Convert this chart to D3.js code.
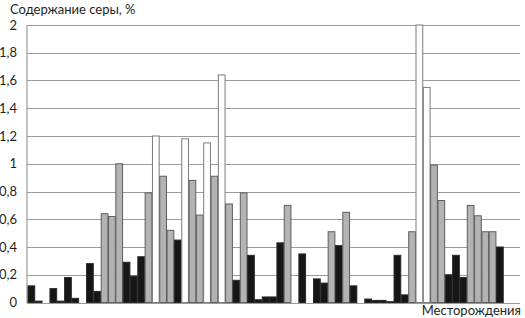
<!DOCTYPE html>
<html lang="ru">
<head>
<meta charset="utf-8">
<title>Содержание серы</title>
<script src="https://d3js.org/d3.v7.min.js"></script>
<style>
  body { margin: 0; background: #fff; }
  text { font-family: Lato, "Open Sans", sans-serif; fill: #1e1e1e; }
</style>
</head>
<body>
<script type="text/javascript">

// sulfur content per deposit, % (null = no bar)
var sulfur = [0.12, 0.01, null, 0.10, 0.01, 0.18, 0.03, null, 0.28, 0.08,
              0.64, 0.62, 1.0, 0.29, 0.19, 0.33, 0.79, 1.2, 0.91, 0.52,
              0.45, 1.18, 0.88, 0.63, 1.15, 0.91, 1.64, 0.71, 0.16, 0.79,
              0.34, 0.02, 0.04, 0.04, 0.43, 0.70, null, 0.35, null, 0.17,
              0.14, 0.51, 0.41, 0.65, 0.12, null, 0.025, 0.015, 0.015, 0.006,
              0.34, 0.055, 0.51, 2.0, 1.55, 0.99, 0.735, 0.20, 0.34, 0.18,
              0.70, 0.625, 0.51, 0.51, 0.40, null, null];

// group of each deposit: b = black, g = grey, w = white
var group = ["b","b","","b","b","b","b","","b","b",
             "g","g","g","b","b","b","g","w","g","g",
             "b","w","g","g","w","g","w","g","b","g",
             "b","b","b","b","b","g","","b","","b",
             "b","g","b","g","b","","b","b","b","b",
             "b","b","g","w","w","g","g","b","b","b",
             "g","g","g","g","b","",""];

var deposits = d3.range(1, sulfur.length + 1);
var yTicks = [0, 0.2, 0.4, 0.6, 0.8, 1, 1.2, 1.4, 1.6, 1.8, 2];

var w = 525;
var h = 318;

var fills   = { b: "#161616", g: "#b3b3b3", w: "#ffffff" };
var strokes = { b: "#2a2a2a", g: "#5e5e5e", w: "#7a7a7a" };

var svg = d3.select("body")
            .append("svg")
            .attr("width", w)
            .attr("height", h);

var x = d3.scaleBand()
          .domain(deposits)
          .range([27.5, 518])
          .padding(0);

var y = d3.scaleLinear()
          .domain([0, 2])
          .range([302.5, 25]);

// gridlines
svg.append("g")
   .selectAll("line")
   .data(yTicks)
   .enter()
   .append("line")
   .attr("x1", 27)
   .attr("x2", 520)
   .attr("y1", function(d) { return Math.round(y(d)) + 0.5; })
   .attr("y2", function(d) { return Math.round(y(d)) + 0.5; })
   .attr("stroke", "#9a9a9a")
   .attr("stroke-width", 1.2);

// vertical axis line
svg.append("line")
   .attr("x1", 27).attr("x2", 27)
   .attr("y1", y(2)).attr("y2", y(0) + 0.5)
   .attr("stroke", "#9a9a9a")
   .attr("stroke-width", 1.2);

// tick labels
svg.append("g")
   .selectAll("text")
   .data(yTicks)
   .enter()
   .append("text")
   .text(function(d) { return String(d).replace(".", ","); })
   .attr("x", 17)
   .attr("y", function(d) { return y(d) + 4.5; })
   .attr("text-anchor", "end")
   .attr("font-size", "13px");

// bars
var rows = deposits.map(function(d, i) { return { dep: d, v: sulfur[i], g: group[i] }; })
                   .filter(function(d) { return d.v !== null; });

svg.append("g")
   .selectAll("rect")
   .data(rows)
   .enter()
   .append("rect")
   .attr("x", function(d) { return x(d.dep) + 0.5; })
   .attr("y", function(d) { return y(d.v); })
   .attr("width", x.bandwidth() - 0.6)
   .attr("height", function(d) { return y(0) - y(d.v); })
   .attr("fill", function(d) { return fills[d.g]; })
   .attr("stroke", function(d) { return strokes[d.g]; })
   .attr("stroke-width", 1);

// titles
svg.append("text")
   .text("Содержание серы, %")
   .attr("x", 10)
   .attr("y", 14)
   .attr("font-size", "13px");

svg.append("text")
   .text("Месторождения")
   .attr("x", 521)
   .attr("y", 315)
   .attr("text-anchor", "end")
   .attr("font-size", "13px");

</script>
</body>
</html>
